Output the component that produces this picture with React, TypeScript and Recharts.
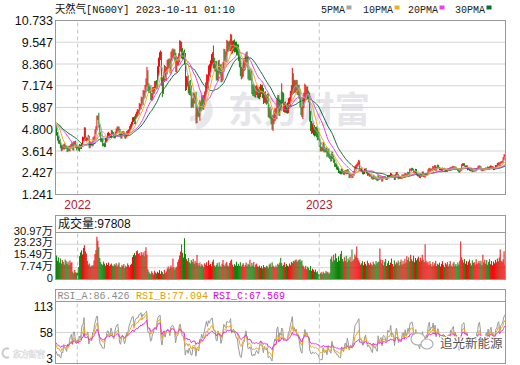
import React from 'react';
import { ComposedChart, Bar, Line, XAxis, YAxis, CartesianGrid, ReferenceLine } from 'recharts';

// ---------------- data ----------------
// closes before the visible window (used only to start the moving averages / RSI)
const warmClose2021 = [5.43,5.79,5.43,5.09,5.52, 5.71,5.51,5.45,5.28,4.88, 4.80,4.96,5.10,4.86,4.83,
  4.81,5.03,4.92,5.13,4.90, 5.05,5.36,5.23,5.08,5.31, 5.45,5.51,5.24,5.09,4.90];

const close2021 = [4.55,4.30,4.10,4.13,3.86, 3.72,3.85,3.78,3.93,3.82, 3.80,3.67,3.80,3.69,3.82,
  3.92,3.97,3.73,4.06,4.06, 3.88,3.73];

const close2022 = [
  3.81,3.71,3.88,3.82,3.92,4.25,4.25,4.80,4.26,4.26,4.26,4.36,3.88,3.99,4.03,3.98,4.27,4.30,4.64,4.87,
  5.46,5.50,4.99,4.57,4.20,4.20,3.96,3.96,3.94,4.19,4.28,4.51,4.52,4.42,4.42,4.64,4.57,4.44,4.40,
  4.57,4.72,4.80,4.85,4.70,4.45,4.40,4.55,4.60,4.52,4.40,4.45,4.62,4.58,4.70,4.85,4.95,5.10,5.30,5.35,5.20,5.50,5.64,
  5.72,5.72,6.03,6.03,6.36,6.28,6.70,6.68,7.00,7.30,7.82,7.08,6.97,6.97,6.54,6.58,6.86,6.93,7.21,7.24,
  7.18,7.94,8.43,8.78,8.78,7.43,6.95,7.64,8.01,7.66,7.98,8.33,8.42,8.34,8.08,8.75,8.93,8.97,8.90,8.73,8.14,
  8.49,8.52,8.70,9.32,9.32,8.96,8.85,8.85,8.61,7.19,7.42,7.44,6.97,7.21,6.89,6.24,6.22,6.54,6.50,6.50,5.42,
  5.73,5.75,5.52,6.09,6.04,6.38,6.14,6.36,6.65,7.00,7.50,7.29,8.03,7.92,8.28,8.60,8.75,8.40,8.23,8.23,
  7.76,7.72,8.27,8.07,8.06,7.63,7.77,8.21,8.87,8.77,8.73,9.32,9.33,9.30,9.34,9.68,9.19,9.33,9.40,9.29,9.26,9.13,9.13,
  8.80,8.48,7.95,7.80,7.98,8.26,8.28,8.55,8.75,8.45,7.77,7.76,7.82,7.68,6.97,6.90,6.95,6.80,6.88,6.92,6.77,
  6.69,6.84,6.96,6.95,6.75,6.46,6.59,6.46,6.42,6.45,5.70,5.73,5.65,5.35,4.96,5.31,5.52,5.68,5.58,6.20,6.36,
  5.80,6.15,6.05,6.55,6.49,5.96,6.03,5.98,5.90,5.96,6.21,6.30,6.60,6.92,7.55,7.00,7.22,7.06,7.20,6.90,6.95,
  6.71,6.28,5.79,5.60,6.23,6.50,6.97,6.67,6.84,6.66,6.52,5.50,5.00,4.80,4.90,4.75,4.66,4.70,4.61,4.48,4.45,
];

const close2023 = [
  3.99,3.72,3.73,3.71,3.95,3.67,3.65,3.68,3.42,3.61,3.35,3.27,3.17,3.45,3.28,3.08,2.85,2.85,2.68,2.68,
  2.48,2.46,2.41,2.57,2.46,2.38,2.46,2.51,2.41,2.55,2.45,2.20,2.28,2.28,2.22,2.31,2.45,2.69,2.76,
  2.82,2.91,3.01,2.59,2.62,2.54,2.41,2.43,2.57,2.61,2.45,2.32,2.35,2.28,2.28,2.16,2.12,2.22,2.13,2.14,2.08,2.03,2.22,
  2.10,2.14,2.17,2.01,2.17,2.18,2.16,2.09,2.11,2.25,2.23,2.25,2.35,2.24,2.27,2.24,2.09,2.30,2.41,
  2.32,2.13,2.17,2.14,2.14,2.27,2.28,2.21,2.35,2.26,2.32,2.41,2.37,2.58,2.59,2.63,2.59,2.44,2.45,2.58,2.33,2.27,
  2.27,2.18,2.26,2.28,2.43,2.23,2.23,2.28,2.34,2.35,2.53,2.63,2.53,2.60,2.59,2.72,2.62,2.78,2.58,2.70,2.80,
  2.69,2.62,2.62,2.58,2.64,2.64,2.60,2.53,2.54,2.60,2.62,2.58,2.68,2.66,2.72,2.74,2.66,2.71,2.64,2.63,
  2.56,2.48,2.55,2.59,2.83,2.86,2.88,2.77,2.77,2.78,2.62,2.64,2.58,2.55,2.59,2.52,2.53,2.54,2.55,2.62,2.64,2.74,2.77,
  2.72,2.60,2.56,2.58,2.60,2.63,2.66,2.64,2.70,2.63,2.72,2.76,2.70,2.72,2.62,2.68,2.78,2.80,2.88,2.93,
  2.84,2.95,2.99,3.02,3.18,3.34,3.38,
];

// upper / lower shadow length of each candle, in cents
const hiWick2021 = [12,10,15,8,14,10,9,12,8,10,9,11,7,10,9,8,12,9,10,8,12,9];
const hiWick2022 = [
  8,10,12,9,14,15,12,11,10,12,9,14,8,10,9,11,10,12,15,10,
  9,5,20,12,10,9,11,8,10,12,9,10,14,8,11,12,10,9,11,
  10,12,15,11,9,12,10,14,9,11,10,12,9,13,10,12,14,11,15,12,16,14,12,
  18,15,20,16,22,18,25,20,22,28,38,20,22,18,24,20,25,18,22,20,
  25,30,28,22,32,25,20,28,30,24,22,26,20,25,30,28,22,25,20,26,24,
  28,22,25,34,30,25,28,22,30,35,28,25,30,22,28,30,25,28,22,30,35,
  25,28,20,30,22,28,25,30,22,35,30,28,25,32,28,30,25,62,30,28,
  30,25,28,32,25,30,28,25,32,30,28,35,30,25,30,32,28,30,25,30,28,32,30,
  30,35,28,25,30,32,28,30,25,30,35,28,30,25,32,28,30,25,28,30,28,
  25,28,30,25,28,30,25,28,22,30,28,25,30,28,22,25,30,28,25,30,32,
  30,28,25,75,28,30,25,28,22,30,28,25,30,28,60,30,28,25,30,28,25,
  28,30,25,22,28,30,32,25,28,30,25,28,30,25,22,25,28,22,25,28,22,
];
const hiWick2023 = [
  18,15,12,14,16,12,15,10,14,12,15,12,10,14,12,10,12,10,8,10,
  8,7,6,9,7,6,8,7,6,8,7,6,8,7,6,7,8,10,9,
  10,9,12,8,7,9,6,7,8,7,6,8,7,6,7,6,5,7,6,5,6,5,7,
  6,5,7,5,6,5,6,7,5,6,5,6,7,5,6,5,6,7,6,
  6,5,7,5,6,7,5,6,7,5,6,7,5,8,6,7,6,5,7,6,5,6,
  5,6,7,5,6,7,5,6,5,7,8,6,7,5,6,8,6,7,5,6,7,
  6,5,6,5,7,5,6,5,6,5,6,5,7,5,6,7,5,6,5,6,
  5,6,5,7,8,9,7,6,5,6,5,6,5,4,6,5,4,5,6,5,6,7,6,
  5,6,5,4,6,5,6,5,7,5,6,7,5,6,5,6,7,5,8,7,
  6,8,7,6,10,9,7,
];
const loWick2021 = [10,12,8,10,9,12,8,7,10,9,8,12,9,8,10,9,10,8,9,12,10,8];
const loWick2022 = [
  10,8,12,9,10,8,12,10,9,11,8,10,12,9,8,10,11,9,12,10,
  12,15,10,12,9,11,10,8,12,10,9,11,10,12,9,10,8,11,10,
  10,9,12,11,10,8,12,10,9,11,10,12,9,10,11,12,10,11,13,10,12,14,11,
  15,18,12,16,14,18,15,20,16,18,20,22,18,20,16,18,20,15,18,20,
  20,18,25,22,20,25,40,22,25,20,22,18,25,20,22,25,20,22,25,20,22,
  25,22,20,25,28,30,25,22,28,30,25,28,22,30,25,28,22,25,30,28,30,
  28,22,6,25,28,22,25,28,22,25,28,30,25,22,28,25,30,28,25,28,
  30,25,28,22,30,28,25,30,28,22,25,28,30,25,22,28,30,25,28,30,25,28,30,
  28,30,25,28,22,30,28,25,30,28,25,30,28,22,25,28,30,25,28,22,25,
  22,25,28,22,25,28,22,25,28,22,25,28,30,28,17,25,22,28,25,22,25,
  25,28,22,25,28,22,25,28,22,25,28,22,25,28,25,28,22,25,28,22,25,
  25,28,22,14,25,28,22,25,28,22,25,28,30,25,22,28,25,22,25,28,22,
];
const loWick2023 = [
  15,12,14,10,12,14,10,12,15,10,12,10,14,12,10,12,10,12,8,10,
  7,8,6,7,8,6,7,8,6,7,8,6,7,6,8,7,6,7,8,
  8,7,9,6,8,7,6,8,7,6,7,6,5,7,6,5,6,7,5,6,5,6,5,
  5,6,5,7,5,6,5,4,5,6,5,4,5,6,5,4,6,5,6,
  5,6,5,4,5,6,5,4,6,5,4,5,6,5,4,6,5,4,5,6,5,4,
  5,4,5,6,5,4,5,6,4,5,6,5,4,5,6,5,4,6,5,4,5,
  4,5,4,5,6,4,5,4,5,6,4,5,4,5,6,4,5,4,5,4,
  5,4,5,6,5,4,6,5,4,5,6,4,5,4,5,6,4,5,4,5,4,5,6,
  4,5,6,4,5,4,5,6,4,5,4,5,4,6,5,4,5,4,5,6,
  5,6,5,4,6,5,6,
];

// volume, in 万 (10k contracts)
const vol2021 = [15.8,12.4,14.6,11.2,13.9,10.5,12.8,11.6,9.8,13.2,12.1,10.4,11.8,9.6,12.5,10.9,11.4,5.2,4.1,6.3,4.8,4.4];
const vol2022 = [
  4.6,8.2,15.4,17.8,19.2,16.5,20.8,22.6,18.4,17.1,12.3,9.8,10.6,8.4,9.2,8.8,9.5,12.6,16.8,19.4,
  28.2,25.6,21.3,14.2,11.5,10.2,9.6,11.8,10.4,9.1,10.8,9.5,11.2,8.9,9.8,10.5,9.2,8.7,10.1,
  9.4,10.8,8.6,9.9,11.2,8.4,7.8,9.6,8.8,10.2,7.5,9.1,8.3,10.6,9.4,8.1,9.7,10.4,14.8,16.2,17.5,15.9,18.6,
  19.2,16.8,17.4,15.6,18.1,16.3,17.9,15.2,18.8,21.3,16.4,6.8,5.2,4.1,3.6,5.5,4.3,3.2,5.8,4.6,
  3.9,5.1,4.4,6.2,3.7,5.6,4.8,3.5,6.4,4.2,5.3,7.2,8.6,6.9,8.1,9.3,7.4,13.8,8.2,6.6,7.9,
  8.4,11.6,13.2,15.8,18.4,23.1,17.6,14.5,27.2,16.8,13.4,12.1,14.2,11.3,10.6,12.8,11.5,13.6,10.4,12.2,11.1,
  16.2,10.8,9.4,11.2,8.6,10.1,9.3,8.2,10.7,9.8,11.4,8.9,12.6,9.5,10.3,8.7,11.8,13.1,9.2,8.4,
  9.6,10.8,8.5,11.3,9.1,8.2,10.4,12.9,9.7,8.8,10.6,11.5,9.3,8.6,10.9,12.4,13.2,9.8,8.4,10.1,9.2,11.7,8.9,
  10.3,9.1,11.4,8.6,9.8,10.7,8.3,9.5,11.2,8.8,10.4,9.7,13.1,8.5,10.9,9.3,11.6,8.2,9.9,10.5,8.7,
  8.4,9.2,7.6,8.8,7.3,9.5,8.1,7.8,9.0,8.6,7.4,9.8,10.6,8.3,11.4,9.1,8.5,7.9,9.3,8.2,10.4,
  9.6,11.2,14.3,10.8,8.9,9.7,11.3,8.4,10.2,9.1,8.6,10.5,9.4,11.6,10.8,12.3,11.9,12.8,13.2,11.6,12.5,
  12.9,13.4,11.8,12.6,9.3,8.6,7.2,9.1,6.8,8.4,7.5,6.2,8.9,5.8,7.1,6.4,5.2,6.6,4.8,5.4,3.6,
];
const vol2023 = [
  3.2,4.1,4.8,3.6,5.2,4.4,3.9,5.6,4.7,5.1,3.8,4.5,13.6,15.2,11.8,16.4,12.7,17.2,14.1,11.6,
  15.3,12.4,16.8,18.9,13.5,11.9,14.7,12.2,15.6,11.4,13.8,12.6,14.9,11.7,19.8,12.3,13.4,16.5,15.1,
  21.8,14.2,12.6,11.3,9.8,10.7,12.1,9.4,11.6,10.2,9.1,12.4,10.8,9.6,11.2,10.1,9.3,11.8,10.4,9.7,12.2,10.6,11.5,
  11.9,20.4,13.2,10.6,12.8,9.4,11.7,13.5,8.9,10.8,12.3,9.6,11.1,13.8,10.2,8.7,12.6,9.9,11.4,
  10.8,12.5,9.3,11.6,13.1,9.8,12.2,10.4,13.6,11.2,15.4,12.8,14.6,11.9,16.2,13.3,12.1,15.7,11.4,14.2,12.7,13.9,
  15.1,11.8,14.4,12.6,16.3,13.1,11.5,23.2,12.4,10.9,11.8,9.6,12.1,10.3,8.8,11.5,9.2,10.7,12.3,8.9,10.4,
  9.7,11.2,8.6,10.3,12.1,9.4,8.2,10.8,9.9,11.4,8.7,10.1,12.2,9.3,8.5,10.6,11.7,9.1,10.2,8.8,
  11.3,9.8,12.4,25.1,14.6,12.8,11.2,13.5,10.4,12.1,9.6,11.8,13.2,10.7,9.3,12.6,10.9,11.5,9.8,13.4,10.2,11.1,12.3,
  10.6,12.4,9.5,16.3,11.2,13.1,10.4,12.8,9.7,11.6,13.4,10.1,12.2,9.4,11.8,10.6,12.9,11.3,13.8,12.1,
  14.6,19.8,12.3,11.6,13.4,18.6,9.78,
];

const yearLabels = ['2022', '2023'];
const priceTicks = [1.241, 2.427, 3.614, 4.8, 5.987, 7.174, 8.36, 9.547, 10.733];
const volTicks = [0, 7.74, 15.49, 23.23, 30.97];
const rsiTicks = [3, 58, 113];
const maPeriods = [5, 10, 20, 30];
const maNames = ['5PMA', '10PMA', '20PMA', '30PMA'];
const rsiPeriods = [6, 12, 24];
const rsiHeader = ['RSI_A:86.426', 'RSI_B:77.094', 'RSI_C:67.569'];
const volHeader = '成交量:97808';
const titleText = '天然气[NG00Y] 2023-10-11 01:10';

// ---------------- derived table ----------------
const closes = [...close2021, ...close2022, ...close2023];
const hiW = [...hiWick2021, ...hiWick2022, ...hiWick2023];
const loW = [...loWick2021, ...loWick2022, ...loWick2023];
const vols = [...vol2021, ...vol2022, ...vol2023];
const allC = [...warmClose2021, ...closes];
const W0 = warmClose2021.length;
const yearIdx = [close2021.length, close2021.length + close2022.length];

function movingAvg(n: number, k: number) {
  let s = 0;
  for (let j = k - n + 1; j <= k; j++) s += allC[Math.max(j, 0)];
  return s / n;
}
function rsiLine(n: number) {
  const out: number[] = [50];
  let up = 0, dn = 0;
  for (let k = 1; k < allC.length; k++) {
    const d = allC[k] - allC[k - 1];
    up = (Math.max(d, 0) + (n - 1) * up) / n;
    dn = (Math.abs(d) + (n - 1) * dn) / n;
    out.push(dn === 0 ? 50 : (up / dn) * 100);
  }
  return out;
}
const rsiAll = rsiPeriods.map(rsiLine);

const rows = closes.map((c, i) => {
  const k = i + W0;
  const o = allC[k - 1];
  const top = Math.max(o, c) + (hiW[i] ?? 0) / 100;
  const bot = Math.min(o, c) - (loW[i] ?? 0) / 100;
  return {
    i,
    range: [bot, top],
    up: c >= o,
    ma5: movingAvg(maPeriods[0], k),
    ma10: movingAvg(maPeriods[1], k),
    ma20: movingAvg(maPeriods[2], k),
    ma30: movingAvg(maPeriods[3], k),
    vol: vols[i] ?? 0,
    rsiA: rsiAll[0][k],
    rsiB: rsiAll[1][k],
    rsiC: rsiAll[2][k],
  };
});

// ---------------- styles ----------------
const RED = '#f00000';
const GREEN = '#008000';
const MA_COLORS = ['#a6a6a6', '#f0b020', '#ee3cee', '#0a6b3a'];
const RSI_COLORS = ['#999999', '#e8aa20', '#e830e8'];
const RSI_HEAD_COLORS = ['#8c8c8c', '#e0a000', '#e000e0'];
const GRID = '#d4d4d4';
const FRAME = '#999999';
const DASH = '#c4c4c4';
const FONT = "Arial, 'Liberation Sans', 'Noto Sans CJK SC', sans-serif";
const MONO = "'Liberation Mono', 'DejaVu Sans Mono', 'Noto Sans CJK SC', monospace";

const barShape = (p: any) => {
  const row = p.payload && p.payload.range ? p.payload : rows[p.index];
  const h = Math.abs(p.height || 0);
  const y = (p.height || 0) < 0 ? p.y + p.height : p.y;
  return <rect x={p.x} y={y} width={p.width} height={Math.max(h, 1)} fill={row && row.up ? RED : GREEN} />;
};

const PriceTick = (p: any) => (
  <text x={p.x} y={p.y} dy="0.36em" textAnchor="end" fontSize={12.5} fontFamily={FONT} fill="#111">
    {Number(p.payload.value).toFixed(3)}
  </text>
);
const VolTick = (p: any) => {
  const v = Number(p.payload.value);
  return (
    <text x={p.x} y={p.y - 2} dy="0.36em" textAnchor="end" fontSize={11.2} fontFamily={FONT} fill="#111">
      {v === 0 ? '0' : v.toFixed(2) + '万'}
    </text>
  );
};
const RsiTick = (p: any) => {
  const y = Math.min(Math.max(p.y, 307), 358.5);
  return (
    <text x={p.x} y={y} dy="0.36em" textAnchor="end" fontSize={12} fontFamily={FONT} fill="#111">
      {p.payload.value}
    </text>
  );
};
const YearTick = (p: any) => {
  const idx = yearIdx.indexOf(Number(p.payload.value));
  return (
    <text x={p.x} y={p.y} dy="0.71em" textAnchor="middle" fontSize={12} fontFamily={FONT} fill="#b4202a">
      {idx >= 0 ? yearLabels[idx] : ''}
    </text>
  );
};

const abs: React.CSSProperties = { position: 'absolute', left: 0, top: 0 };

export default function App() {
  const refLines = yearIdx.map((x) => (
    <ReferenceLine key={x} x={x} stroke={DASH} strokeDasharray="4 3" ifOverflow="extendDomain" />
  ));
  return (
    <div style={{ position: 'absolute', left: 0, top: 0, width: 520, height: 365, background: '#fff', overflow: 'hidden' }}>
      {/* background watermark */}
      <svg width={520} height={365} style={abs}>
        <path d="M196 95 A17 16 0 0 1 196 126" stroke="#e8e8ec" strokeWidth={8} fill="none" />
        <path d="M190 103 A9 8 0 0 1 190 119" stroke="#e8e8ec" strokeWidth={5} fill="none" />
        <text x={228} y={123} fontSize={36} fontWeight={700} fontFamily="'Noto Sans CJK SC', sans-serif" fill="#e6e6ea" textLength={142} lengthAdjust="spacingAndGlyphs">东方财富</text>
      </svg>

      {/* price panel */}
      <div style={abs}>
        <ComposedChart width={520} height={365} data={rows} margin={{ top: 20.5, right: 14.5, bottom: 149.5, left: 0 }} barCategoryGap={0} barGap={0}>
          <CartesianGrid vertical={false} stroke={GRID} />
          <XAxis dataKey="i" type="category" ticks={yearIdx} interval={0} height={21} tickLine={false} axisLine={false} tickSize={0} tickMargin={6} tick={YearTick} />
          <YAxis domain={[priceTicks[0], priceTicks[priceTicks.length - 1]]} ticks={priceTicks} interval={0} width={56} allowDataOverflow tickLine={false} axisLine={false} tickSize={0} tickMargin={3} tick={PriceTick} />
          {refLines}
          <Bar dataKey="range" isAnimationActive={false} shape={barShape} />
          <Line dataKey="ma30" stroke={MA_COLORS[3]} strokeWidth={1} dot={false} activeDot={false} isAnimationActive={false} />
          <Line dataKey="ma20" stroke={MA_COLORS[2]} strokeWidth={1} dot={false} activeDot={false} isAnimationActive={false} />
          <Line dataKey="ma10" stroke={MA_COLORS[1]} strokeWidth={1} dot={false} activeDot={false} isAnimationActive={false} />
          <Line dataKey="ma5" stroke={MA_COLORS[0]} strokeWidth={1} dot={false} activeDot={false} isAnimationActive={false} />
        </ComposedChart>
      </div>

      {/* volume panel */}
      <div style={abs}>
        <ComposedChart width={520} height={365} data={rows} margin={{ top: 232.5, right: 14.5, bottom: 85.5, left: 0 }} barCategoryGap={0} barGap={0}>
          <CartesianGrid vertical={false} stroke={GRID} />
          <XAxis dataKey="i" type="category" hide height={0} />
          <YAxis domain={[volTicks[0], volTicks[volTicks.length - 1]]} ticks={volTicks} interval={0} width={56} allowDataOverflow tickLine={false} axisLine={false} tickSize={0} tickMargin={3} tick={VolTick} />
          {refLines}
          <Bar dataKey="vol" isAnimationActive={false} shape={barShape} />
        </ComposedChart>
      </div>

      {/* RSI panel */}
      <div style={abs}>
        <ComposedChart width={520} height={365} data={rows} margin={{ top: 301.5, right: 14.5, bottom: 1.5, left: 0 }}>
          <CartesianGrid vertical={false} stroke={GRID} />
          <XAxis dataKey="i" type="category" hide height={0} />
          <YAxis domain={[rsiTicks[0], rsiTicks[rsiTicks.length - 1]]} ticks={rsiTicks} interval={0} width={56} allowDataOverflow tickLine={false} axisLine={false} tickSize={0} tickMargin={3} tick={RsiTick} />
          {refLines}
          <Line dataKey="rsiA" stroke={RSI_COLORS[0]} strokeWidth={1} dot={false} activeDot={false} isAnimationActive={false} />
          <Line dataKey="rsiB" stroke={RSI_COLORS[1]} strokeWidth={1} dot={false} activeDot={false} isAnimationActive={false} />
          <Line dataKey="rsiC" stroke={RSI_COLORS[2]} strokeWidth={1} dot={false} activeDot={false} isAnimationActive={false} />
        </ComposedChart>
      </div>

      {/* frames, headers, legend */}
      <svg width={520} height={365} style={{ ...abs, pointerEvents: 'none' }}>
        <rect x={55.5} y={20.5} width={450} height={174} fill="none" stroke={FRAME} />
        <rect x={55.5} y={215.5} width={450} height={64} fill="none" stroke={FRAME} />
        <line x1={55.5} x2={505.5} y1={232.5} y2={232.5} stroke={FRAME} />
        <rect x={55.5} y={289.5} width={450} height={74} fill="none" stroke={FRAME} />
        <line x1={55.5} x2={505.5} y1={301.5} y2={301.5} stroke={FRAME} />

        <text x={55} y={12.5} fontSize={11} fontFamily={MONO} fill="#111" textLength={180} lengthAdjust="spacingAndGlyphs">{titleText}</text>

        {maNames.map((n, k) => {
          const xs = [321, 363, 408, 455];
          const w = n.length * 6;
          return (
            <g key={n}>
              <text x={xs[k]} y={12.5} fontSize={10} fontFamily={MONO} fill="#222">{n}</text>
              <rect x={xs[k] + w + 1.5} y={5.5} width={5} height={4} fill={MA_COLORS[k]} />
            </g>
          );
        })}

        <text x={58} y={228} fontSize={12} fontFamily={FONT} fill="#111">{volHeader}</text>

        {rsiHeader.map((t, k) => (
          <text key={t} x={[57.5, 136, 213][k]} y={298.5} fontSize={10} fontFamily={MONO} fill={RSI_HEAD_COLORS[k]}>{t}</text>
        ))}

        {/* small watermarks */}
        <path d="M9 349 A4.5 4.5 0 1 0 9 357" stroke="#cfcfcf" strokeWidth={2.2} fill="none" />
        <text x={13} y={356.5} fontSize={8} fontFamily="'Noto Sans CJK SC', sans-serif" fill="#ffffff" stroke="#c4c4c4" strokeWidth={0.7} paintOrder="stroke">东方财富</text>

        <ellipse cx={418} cy={339} rx={7} ry={6} fill="#fff" stroke="#b0b0b0" strokeWidth={1.2} />
        <ellipse cx={427} cy={344} rx={6} ry={5} fill="#fff" stroke="#b0b0b0" strokeWidth={1.2} />
        <text x={440} y={347.5} fontSize={12.5} fontFamily="'Noto Sans CJK SC', sans-serif" fill="#555" stroke="#fff" strokeWidth={2.5} paintOrder="stroke">追光新能源</text>
      </svg>
    </div>
  );
}
